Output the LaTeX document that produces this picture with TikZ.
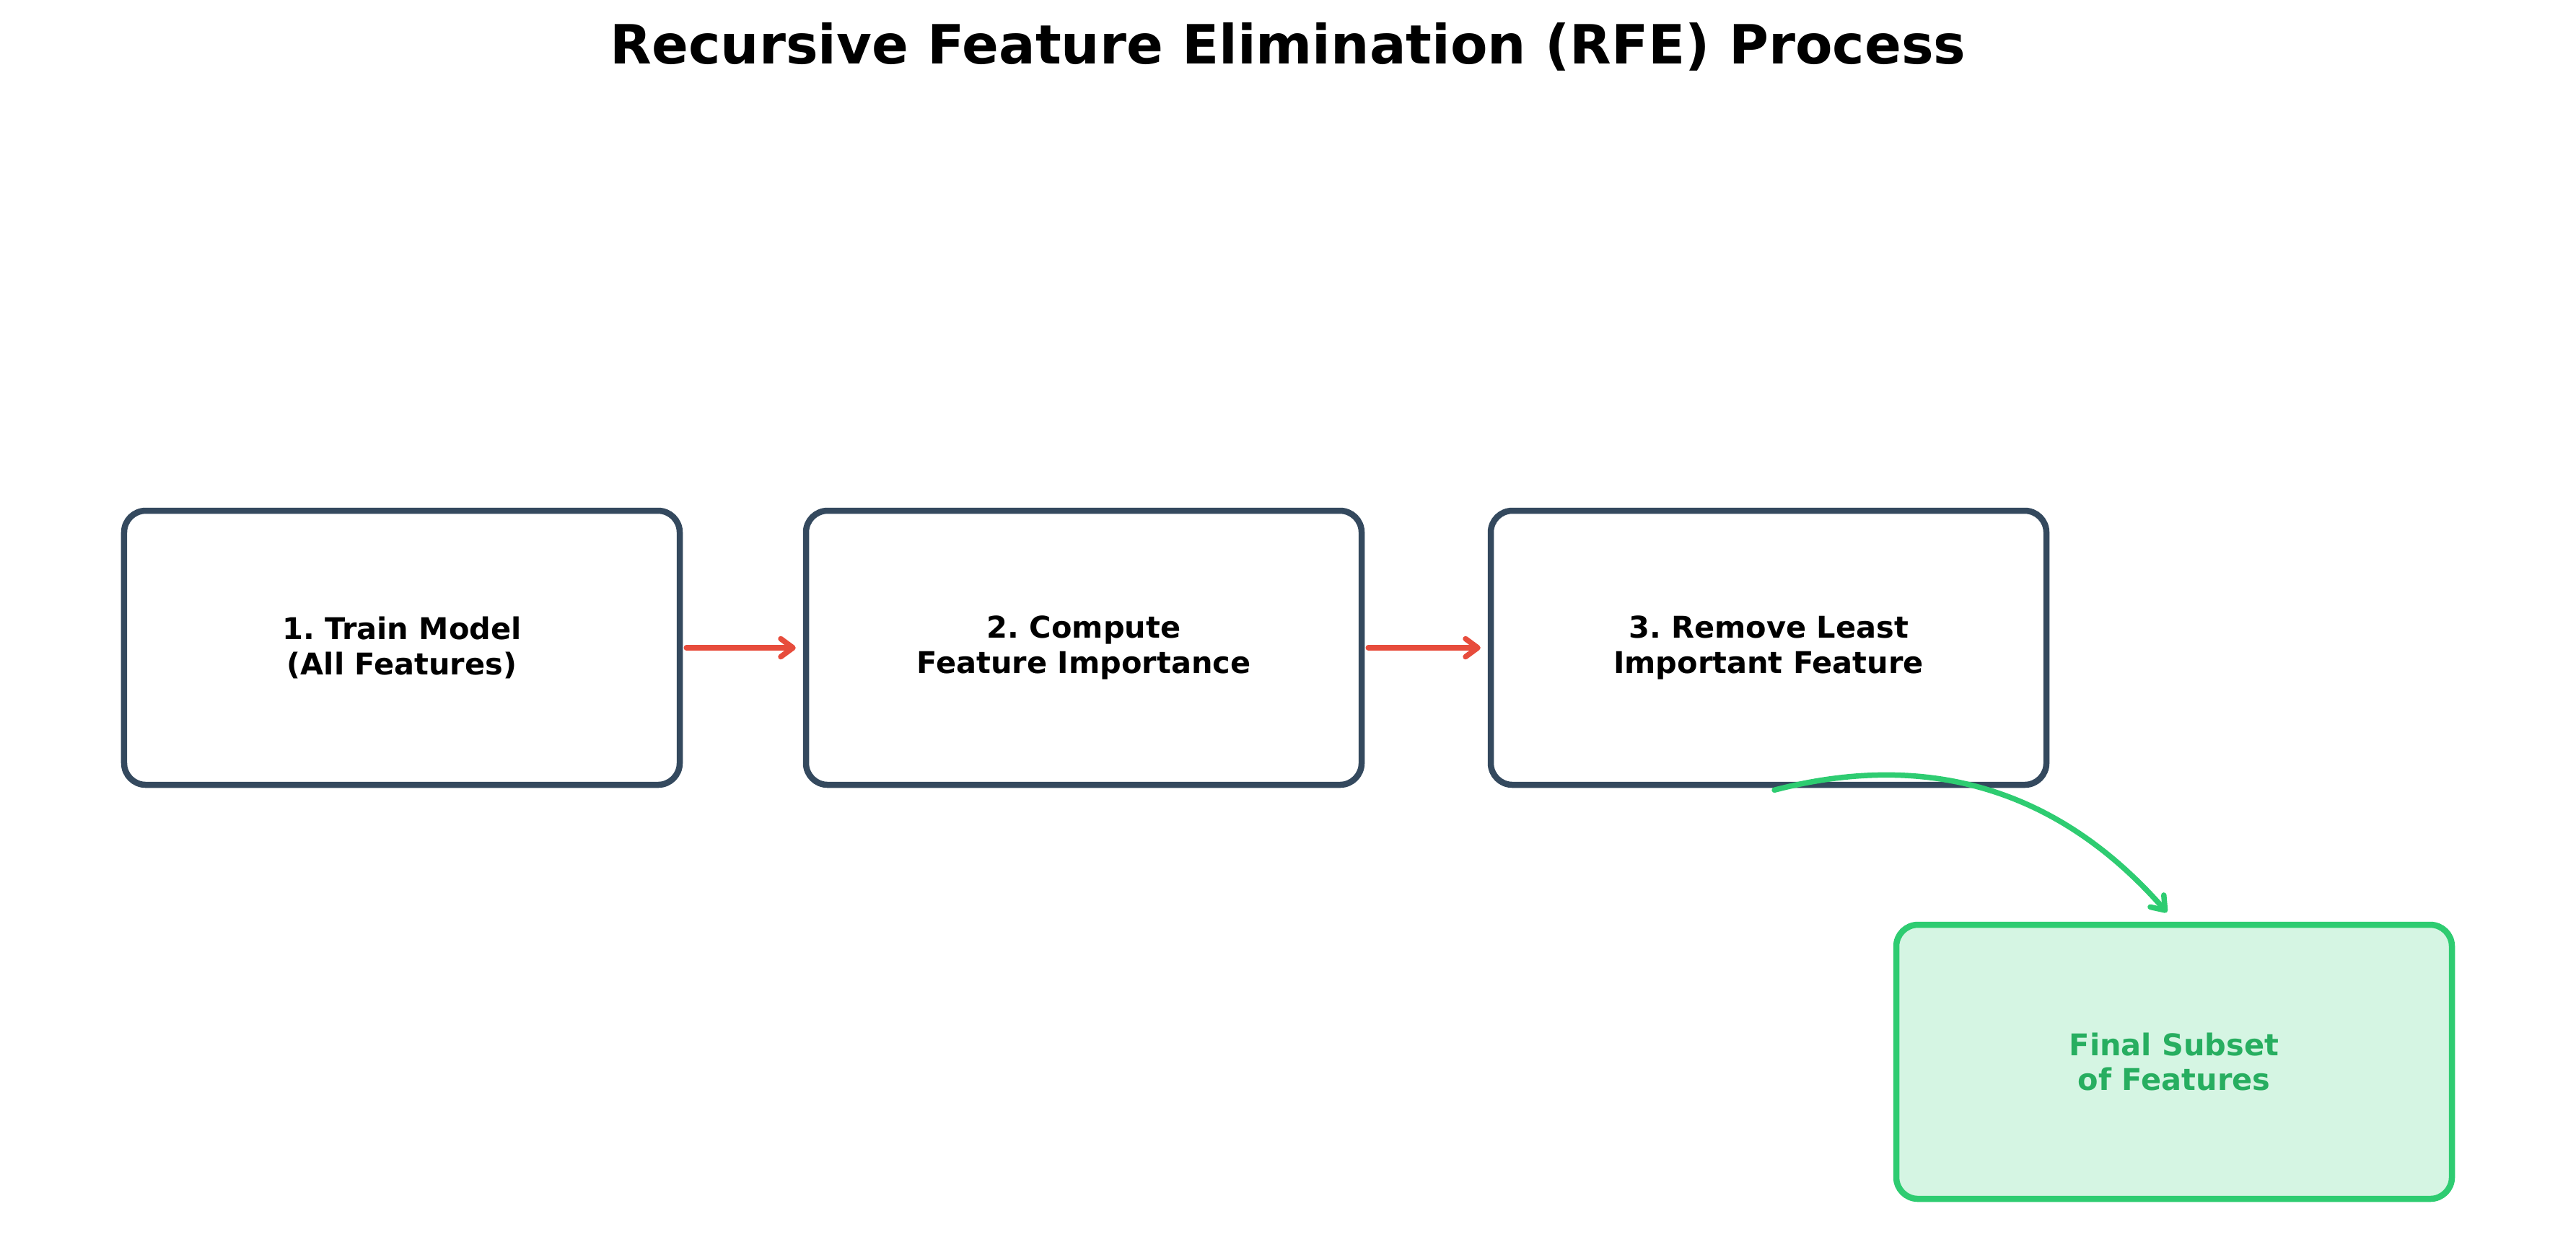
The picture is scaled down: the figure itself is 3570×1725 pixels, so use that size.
\documentclass[tikz,border=0pt]{standalone}
\usepackage{fontspec}
\setmainfont{DejaVu Sans}
\usetikzlibrary{arrows.meta,calc}
\frenchspacing
\definecolor{boxborder}{HTML}{34495E}
\definecolor{redarrow}{HTML}{E74C3C}
\definecolor{greenline}{HTML}{2ECC71}
\definecolor{greenfill}{HTML}{D5F5E3}
\definecolor{greentext}{HTML}{27AE60}
\tikzset{
  stepbox/.style={draw=boxborder, line width=1.7pt, rounded corners=6pt, fill=white,
    minimum width=154pt, minimum height=76pt, align=center, inner sep=0pt,
    font=\fontsize{8.3pt}{9.7pt}\selectfont\bfseries},
  finalbox/.style={stepbox, draw=greenline, fill=greenfill, text=greentext},
  redarrow/.style={draw=redarrow, line width=1.5pt, line cap=round,
    -{Straight Barb[length=3.4pt, width=5pt, line cap=round, line join=round]},
    shorten <=1pt, shorten >=2pt},
  greenarrow/.style={draw=greenline, line width=1.5pt, line cap=round,
    -{Straight Barb[length=3.4pt, width=5pt, line cap=round, line join=round]}}
}
\begin{document}
\begin{tikzpicture}[x=0.2pt, y=-0.2pt]
\useasboundingbox (0,0) rectangle (3570,1725);
\fill[white] (0,0) rectangle (3570,1725);
\node[anchor=base, font=\fontsize{15pt}{17pt}\selectfont\bfseries, inner sep=0pt] (title) at (1785,88) {Recursive Feature Elimination (RFE) Process};
\node[stepbox] (b1) at (557,898) {1. Train Model\\(All Features)};
\node[stepbox] (b2) at (1502,898) {2. Compute\\Feature Importance};
\node[stepbox] (b3) at (2451,898) {3. Remove Least\\Important Feature};
\node[finalbox] (b4) at (3013,1472) {Final Subset\\of Features};
\draw[redarrow] (b1.east) -- (b2.west);
\draw[redarrow] (b2.east) -- (b3.west);
\coordinate (gstart) at ($(b3.south)+(8,3)$);
\coordinate (gend) at ($(b4.north)+(-10,-13)$);
\draw[greenarrow] (gstart) .. controls (2676,1039) and (2856,1097) .. (gend);
\end{tikzpicture}
\end{document}
